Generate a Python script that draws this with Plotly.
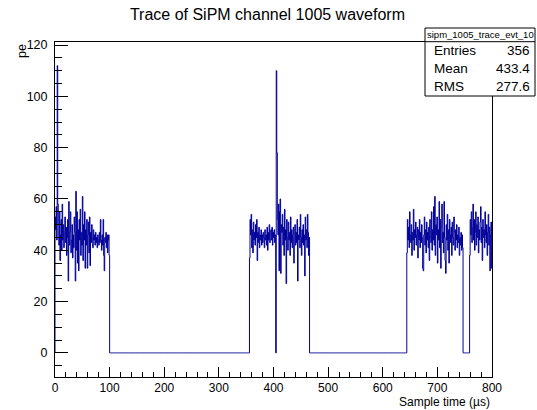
import numpy as np
import plotly.graph_objects as go

# ---- data (1 µs bins) ----
n_bins = 800
bin_width = 1.0

seg1_start = 0
seg1 = [53, 48, 57, 44, 112, 58, 50, 42, 55, 36,
        46, 52, 40, 58, 44, 50, 41, 47, 53, 43,
        49, 38, 45, 52, 28, 59, 42, 47, 55, 39,
        44, 50, 37, 46, 41, 53, 47, 28, 63, 40,
        55, 35, 48, 32, 52, 44, 56, 38, 47, 42,
        61, 36, 50, 44, 55, 33, 48, 42, 52, 33,
        46, 51, 39, 53, 34, 47, 43, 50, 45, 41,
        48, 44, 46, 42, 47, 43, 45, 41, 46, 44,
        42, 47, 43, 52, 44, 40, 46, 42, 52, 38,
        32, 45, 43, 47, 41, 46, 39, 44, 46, 38]

seg2_start = 356
seg2 = [37, 52, 46, 54, 41, 48, 39, 51, 44, 47,
        42, 50, 45, 52, 36, 47, 43, 49, 41, 46,
        44, 48, 42, 46, 43, 47, 45, 41, 48, 44,
        46, 42, 49, 40, 47, 44, 50, 43, 46, 48,
        44, 49, 42, 47, 45, 48, 43, 46, 0, 110,
        78, 52, 46, 58, 32, 55, 60, 31, 50, 47,
        54, 42, 49, 38, 56, 44, 48, 27, 52, 45,
        40, 51, 44, 47, 38, 53, 43, 48, 41, 46,
        49, 35, 45, 50, 42, 47, 43, 52, 28, 46,
        44, 49, 41, 54, 45, 38, 48, 43, 50, 42,
        46, 30, 53, 44, 48, 41, 54, 47, 38, 45]

seg3_start = 644
seg3 = [39, 52, 44, 49, 41, 55, 46, 43, 50, 38,
        47, 44, 56, 40, 48, 45, 51, 42, 46, 49,
        37, 48, 44, 52, 41, 47, 43, 50, 45, 33,
        32, 46, 53, 42, 48, 39, 51, 44, 47, 41,
        49, 36, 52, 45, 43, 55, 40, 48, 44, 57,
        42, 61, 38, 50, 46, 53, 35, 48, 44, 59,
        41, 52, 33, 49, 58, 43, 47, 39, 59, 45,
        36, 31, 50, 44, 54, 40, 48, 35, 52, 46,
        43, 49, 38, 51, 45, 42, 53, 47, 40, 48,
        44, 50, 41, 46, 43, 49, 38, 45, 42, 47,
        40, 46, 41]

seg4_start = 759
seg4 = [38, 52, 46, 55, 43, 49, 58, 44, 52, 40,
        47, 55, 42, 50, 45, 53, 39, 48, 44, 51,
        57, 43, 49, 36, 52, 45, 48, 41, 55, 46,
        43, 50, 38, 47, 54, 42, 49, 32, 46, 51,
        33]

stats_name = "sipm_1005_trace_evt_10"
stats_labels = ["Entries", "Mean", "RMS"]
stats_values = ["356", "433.4", "277.6"]

# ---- build histogram contents ----
content = np.zeros(n_bins)
for start, seg in [(seg1_start, seg1), (seg2_start, seg2),
                   (seg3_start, seg3), (seg4_start, seg4)]:
    content[start:start + len(seg)] = seg

edges = np.arange(n_bins + 1) * bin_width
# step outline: start at baseline, go through each bin, end at last edge
xs = np.concatenate([[edges[0]], edges])
ys = np.concatenate([[0.0], content, [content[-1]]])

LINE = "#000099"
FONT = "Liberation Sans, Arial, Helvetica, sans-serif"

fig = go.Figure()
fig.add_trace(go.Scatter(x=xs, y=ys, mode="lines",
                         line=dict(color=LINE, width=1, shape="hv"),
                         hoverinfo="skip", showlegend=False))

W, H = 537, 410
L, R, T, B = 55, 45, 42, 33
pw, ph = W - L - R, H - T - B


def px(x):
    return (x - L) / pw


def py(y):
    return (H - B - y) / ph


fig.update_layout(
    width=W, height=H,
    margin=dict(l=L, r=R, t=T, b=B),
    paper_bgcolor="white", plot_bgcolor="white",
    font=dict(family=FONT, color="black", size=12),
    title=dict(text="Trace of SiPM channel 1005 waveform",
               x=0.498, xref="container", xanchor="center",
               y=1 - 14 / H, yref="container", yanchor="middle",
               font=dict(size=16, family=FONT, color="black")),
    xaxis=dict(range=[0, 800], showgrid=False, zeroline=False,
               showline=True, mirror=True, linecolor="black", linewidth=1,
               ticks="inside", ticklen=10, tickcolor="black", dtick=100,
               tick0=0, ticklabelstandoff=0,
               minor=dict(ticks="inside", ticklen=5, dtick=20,
                          tickcolor="black", showgrid=False),
               tickfont=dict(size=12, family=FONT)),
    yaxis=dict(range=[-9.4, 121.2], showgrid=False, zeroline=False,
               showline=True, mirror=True, linecolor="black", linewidth=1,
               ticks="inside", ticklen=13, tickcolor="black", dtick=20,
               tick0=0, ticklabelstandoff=4,
               minor=dict(ticks="inside", ticklen=7, dtick=5,
                          tickcolor="black", showgrid=False),
               tickfont=dict(size=12.5, family=FONT)),
)

# axis titles
fig.add_annotation(text="Sample time (µs)", xref="paper", yref="paper",
                   x=1.0, y=py(402), xanchor="right", yanchor="middle",
                   showarrow=False, font=dict(size=12, family=FONT))
fig.add_annotation(text="pe", xref="paper", yref="paper",
                   x=px(22), y=1.0, xanchor="center", yanchor="top",
                   textangle=-90, showarrow=False,
                   font=dict(size=12.5, family=FONT))

# stats box
bx0, bx1, by0, by1, bsep = 425, 535, 28, 96, 41.7
fig.add_shape(type="rect", xref="paper", yref="paper",
              x0=px(bx0), x1=px(bx1), y0=py(by1), y1=py(by0),
              line=dict(color="black", width=1), fillcolor="white",
              layer="above")
fig.add_shape(type="line", xref="paper", yref="paper",
              x0=px(bx0), x1=px(bx1), y0=py(bsep), y1=py(bsep),
              line=dict(color="black", width=1), layer="above")
fig.add_annotation(text=stats_name, xref="paper", yref="paper",
                   x=px((bx0 + bx1) / 2), y=py((by0 + bsep) / 2),
                   xanchor="center", yanchor="middle", showarrow=False,
                   font=dict(size=9.5, family=FONT))
row_y = [50, 68, 86]
for lab, val, ry in zip(stats_labels, stats_values, row_y):
    fig.add_annotation(text=lab, xref="paper", yref="paper",
                       x=px(bx0 + 7), y=py(ry), xanchor="left",
                       yanchor="middle", showarrow=False,
                       font=dict(size=13.5, family=FONT))
    fig.add_annotation(text=val, xref="paper", yref="paper",
                       x=px(bx1 - 3), y=py(ry), xanchor="right",
                       yanchor="middle", showarrow=False,
                       font=dict(size=13.5, family=FONT))

fig.write_html("out.html",
               config={"displayModeBar": False},
               post_script="document.body.style.margin='0px';"
                           "document.body.style.overflow='hidden';")
